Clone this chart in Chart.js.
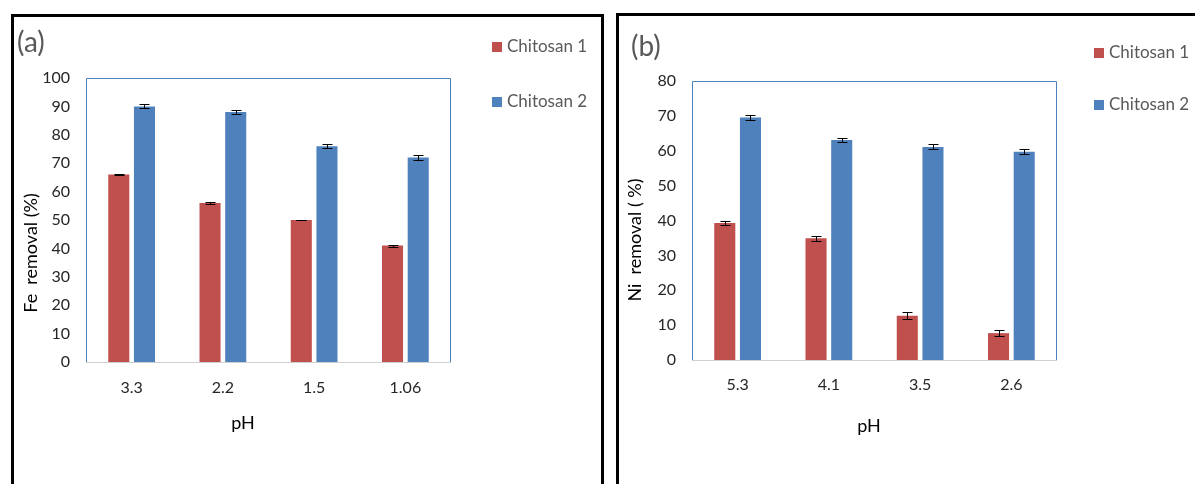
<!DOCTYPE html>
<html><head><meta charset="utf-8">
<script src="https://cdn.jsdelivr.net/npm/chart.js@4.4.0/dist/chart.umd.min.js"></script>
<style>
html,body{margin:0;padding:0;background:#fff;overflow:hidden;width:1195px;height:484px;}
.frame{position:absolute;border:3px solid #000;border-bottom:none;height:600px;box-sizing:content-box;}
#fa{left:11px;top:14px;width:587px;}
#fb{left:616px;top:13px;width:700px;}
canvas{position:absolute;top:0;}
#ca{left:0;}
#cb{left:605px;}
</style></head><body>
<div class="frame" id="fa"></div><div class="frame" id="fb"></div>
<canvas id="ca" width="605" height="484"></canvas>
<canvas id="cb" width="590" height="484"></canvas>
<script>
// ---- data ----
const seriesNames = ['Chitosan 1', 'Chitosan 2'];
const pHFe = ['3.3', '2.2', '1.5', '1.06'];
const chitosan1Fe = [66, 56, 50, 41];
const chitosan2Fe = [90, 88, 76, 72];
const errChitosan1Fe = [0.15, 0.5, 0.15, 0.35];
const errChitosan2Fe = [0.7, 0.65, 0.7, 0.9];
const yTicksFe = {min: 0, max: 100, step: 10};

const pHNi = ['5.3', '4.1', '3.5', '2.6'];
const chitosan1Ni = [39.3, 34.9, 12.7, 7.7];
const chitosan2Ni = [69.5, 63.1, 61.1, 59.7];
const errChitosan1Ni = [0.6, 0.7, 1.0, 0.9];
const errChitosan2Ni = [0.8, 0.5, 0.7, 0.7];
const yTicksNi = {min: 0, max: 80, step: 10};

const RED = '#C0504D', BLUE = '#4F81BD';
const FONT = 'Lato, "Open Sans", sans-serif';

const panelPlugin = {
  id: 'panel',
  afterDatasetsDraw(chart, args, o) {
    const ctx = chart.ctx, ys = chart.scales.y, ca = chart.chartArea;
    ctx.save();
    // plot area border
    ctx.lineWidth = 1;
    ctx.strokeStyle = BLUE;
    ctx.beginPath();
    ctx.moveTo(ca.left + 0.5, ca.bottom);
    ctx.lineTo(ca.left + 0.5, ca.top + 0.5);
    ctx.lineTo(ca.right - 0.5, ca.top + 0.5);
    ctx.lineTo(ca.right - 0.5, ca.bottom);
    ctx.stroke();
    ctx.strokeStyle = '#D0D0D0';
    ctx.beginPath();
    ctx.moveTo(ca.left, ca.bottom + 0.5);
    ctx.lineTo(ca.right, ca.bottom + 0.5);
    ctx.stroke();
    // error bars
    ctx.strokeStyle = '#000';
    chart.data.datasets.forEach((ds, i) => {
      const meta = chart.getDatasetMeta(i);
      meta.data.forEach((bar, j) => {
        const v = ds.data[j], e = ds.errors[j];
        const x = Math.round(bar.x) + 0.5;
        const y1 = Math.round(ys.getPixelForValue(v + e)) + 0.5;
        const y2 = Math.round(ys.getPixelForValue(v - e)) + 0.5;
        ctx.beginPath();
        ctx.moveTo(x, y1); ctx.lineTo(x, y2);
        ctx.moveTo(x - 5, y1); ctx.lineTo(x + 5, y1);
        ctx.moveTo(x - 5, y2); ctx.lineTo(x + 5, y2);
        ctx.stroke();
      });
    });
    // panel label
    ctx.fillStyle = '#595959';
    ctx.font = '28px ' + FONT;
    ctx.textAlign = 'left'; ctx.textBaseline = 'middle';
    ctx.fillText(o.label, o.labelX, o.labelY);
    // legend
    ctx.font = '17px ' + FONT;
    chart.data.datasets.forEach((ds, i) => {
      const y = o.legendY + i * o.legendGap;
      ctx.fillStyle = ds.backgroundColor;
      ctx.fillRect(o.legendX, y - 5, 10, 10);
      ctx.fillStyle = '#595959';
      ctx.fillText(ds.label, o.legendX + 15, y);
    });
    // axis titles
    ctx.fillStyle = '#000';
    ctx.font = '18px ' + FONT;
    ctx.textAlign = 'center';
    ctx.fillText(o.xTitle, o.xTitleX, o.xTitleY);
    ctx.translate(o.yTitleX, o.yTitleY);
    ctx.rotate(-Math.PI / 2);
    ctx.fillText(o.yTitle, 0, 0);
    ctx.restore();
  }
};

function makeChart(id, cats, d1, d2, e1, e2, yt, area, annot) {
  const cv = document.getElementById(id);
  return new Chart(cv, {
    type: 'bar',
    data: {
      labels: cats,
      datasets: [
        {label: seriesNames[0], data: d1, errors: e1, backgroundColor: RED},
        {label: seriesNames[1], data: d2, errors: e2, backgroundColor: BLUE}
      ]
    },
    options: {
      responsive: false, animation: false, devicePixelRatio: 1,
      categoryPercentage: 0.563, barPercentage: 0.82,
      layout: {padding: {left: 0, top: area.top, right: cv.width - area.right, bottom: 0}},
      plugins: {legend: {display: false}, tooltip: {enabled: false}, panel: annot},
      scales: {
        x: {
          grid: {display: false, drawTicks: false}, border: {display: false},
          ticks: {padding: area.tickPad, color: '#262626', font: {family: FONT, size: 16}},
          afterFit(s) { s.height = cv.height - area.bottom; }
        },
        y: {
          min: yt.min, max: yt.max,
          grid: {display: false, drawTicks: false}, border: {display: false},
          ticks: {stepSize: yt.step, padding: 16, color: '#262626', font: {family: FONT, size: 16}},
          afterFit(s) { s.width = area.left; }
        }
      }
    },
    plugins: [panelPlugin]
  });
}

makeChart('ca', pHFe, chitosan1Fe, chitosan2Fe, errChitosan1Fe, errChitosan2Fe, yTicksFe,
  {left: 86, top: 78, right: 451, bottom: 362, tickPad: 16},
  {label: '(a)', labelX: 17, labelY: 43, legendX: 492, legendY: 47, legendGap: 55,
   xTitle: 'pH', xTitleX: 243, xTitleY: 423, yTitle: 'Fe  removal (%)', yTitleX: 31, yTitleY: 253});

makeChart('cb', pHNi, chitosan1Ni, chitosan2Ni, errChitosan1Ni, errChitosan2Ni, yTicksNi,
  {left: 87, top: 81, right: 452, bottom: 360, tickPad: 15},
  {label: '(b)', labelX: 26, labelY: 47, legendX: 489, legendY: 53, legendGap: 52,
   xTitle: 'pH', xTitleX: 264, xTitleY: 426, yTitle: 'Ni  removal ( %)', yTitleX: 30, yTitleY: 240});
</script>
</body></html>
